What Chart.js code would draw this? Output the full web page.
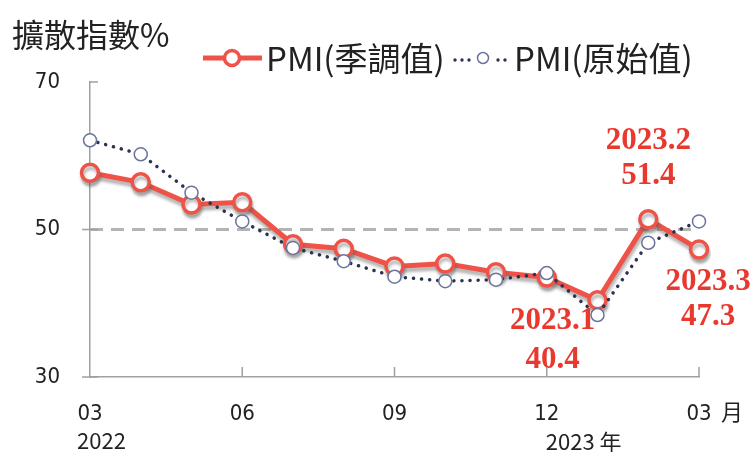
<!DOCTYPE html>
<html>
<head>
<meta charset="utf-8">
<script src="https://cdn.jsdelivr.net/npm/chart.js@4.4.0/dist/chart.umd.min.js"></script>
<style>
    html, body { margin: 0; padding: 0; background: #fff; }
    #wrap { position: relative; width: 756px; height: 452px; }
</style>
</head>
<body>
<div id="wrap"><canvas id="chart-pmi" width="756" height="452"></canvas></div>
<script>
// datos: 2022/03 .. 2023/03
var meses = ['03', '04', '05', '06', '07', '08', '09', '10', '11', '12', '01', '02', '03'];
var pmiSa = [57.7, 56.4, 53.4, 53.7, 48.0, 47.4, 45.0, 45.4, 44.2, 43.5, 40.4, 51.4, 47.3];
var pmiRaw = [62.1, 60.2, 55.0, 51.1, 47.5, 45.7, 43.6, 43.0, 43.2, 44.1, 38.4, 48.2, 51.1];
var yTicks = [30, 50, 70];
var nivelBase = 50;
var notaIdx = [10, 11, 12];
var notaFecha = ['2023.1', '2023.2', '2023.3'];
var serieNombres = ['PMI(季調值)', 'PMI(原始值)'];
var titulo = '擴散指數%';

var ROJO = '#ef5247';
var AZUL = '#2b3352';
var FONT = "'Liberation Sans Narrow', 'DejaVu Sans Condensed', 'Liberation Sans', sans-serif";
var FONT_CJK = "'Liberation Sans Narrow', 'Noto Sans CJK TC', sans-serif";

var PMIChart = (function () {
    var obj = {};

    // linea punteada en 50 y marcas de los ejes
    var pluginFondo = {
        id: 'fondo',
        beforeDatasetsDraw: function (chart) {
            var ctx = chart.ctx;
            var area = chart.chartArea;
            var y = chart.scales.y.getPixelForValue(nivelBase);
            ctx.save();
            ctx.strokeStyle = '#b4b4b4';
            ctx.lineWidth = 3;
            ctx.setLineDash([13, 8]);
            ctx.beginPath();
            ctx.moveTo(area.left, y);
            ctx.lineTo(area.right, y);
            ctx.stroke();
            ctx.restore();
        },
        afterDraw: function (chart) {
            var ctx = chart.ctx;
            var area = chart.chartArea;
            var sx = chart.scales.x;
            var sy = chart.scales.y;
            ctx.save();
            ctx.strokeStyle = '#a0a0a0';
            ctx.lineWidth = 1.5;
            yTicks.forEach(function (v) {
                var y = sy.getPixelForValue(v);
                ctx.beginPath();
                ctx.moveTo(area.left - (v === 70 ? 0 : 8), y);
                ctx.lineTo(area.left + 8, y);
                ctx.stroke();
            });
            for (var i = 3; i < meses.length; i += 3) {
                var x = sx.getPixelForValue(i);
                ctx.beginPath();
                ctx.moveTo(x, area.bottom);
                ctx.lineTo(x, area.bottom - 10);
                ctx.stroke();
            }

            // textos extra del eje x
            ctx.fillStyle = '#222';
            ctx.font = '22px ' + FONT_CJK;
            ctx.textBaseline = 'middle';
            ctx.textAlign = 'left';
            ctx.fillText('月', sx.getPixelForValue(12) + 22, 412);
            ctx.fillText('2022', sx.getPixelForValue(0) - 13, 441);
            ctx.fillText('2023 年', sx.getPixelForValue(9) - 1, 442);

            // notas de los ultimos meses
            ctx.fillStyle = '#e8392f';
            ctx.font = 'bold 31px "Liberation Serif", serif';
            ctx.textAlign = 'center';
            var offs = [[-45, 21, 60], [0, -78, -43], [9, 33, 68]];
            notaIdx.forEach(function (idx, k) {
                var px = sx.getPixelForValue(idx);
                var py = sy.getPixelForValue(pmiSa[idx]);
                ctx.fillText(notaFecha[k], px + offs[k][0], py + offs[k][1]);
                ctx.fillText(pmiSa[idx].toFixed(1), px + offs[k][0], py + offs[k][2]);
            });

            // titulo
            ctx.fillStyle = '#222';
            ctx.textAlign = 'left';
            ctx.font = '32px ' + FONT_CJK;
            ctx.fillText(titulo, 12, 35);

            // leyenda
            ctx.strokeStyle = ROJO;
            ctx.lineWidth = 5;
            ctx.beginPath();
            ctx.moveTo(203, 58);
            ctx.lineTo(262, 58);
            ctx.stroke();
            ctx.fillStyle = '#fff';
            ctx.lineWidth = 3.5;
            ctx.beginPath();
            ctx.arc(232, 58, 7.5, 0, Math.PI * 2);
            ctx.fill();
            ctx.stroke();

            ctx.fillStyle = AZUL;
            [455, 462, 469, 498, 505].forEach(function (dx) {
                ctx.beginPath();
                ctx.arc(dx, 60, 1.7, 0, Math.PI * 2);
                ctx.fill();
            });
            ctx.strokeStyle = '#6a739c';
            ctx.fillStyle = '#fff';
            ctx.lineWidth = 1.5;
            ctx.beginPath();
            ctx.arc(483, 58, 5.5, 0, Math.PI * 2);
            ctx.fill();
            ctx.stroke();

            ctx.fillStyle = '#222';
            ctx.font = '33px ' + FONT_CJK;
            ctx.fillText(serieNombres[0], 266, 58);
            ctx.fillText(serieNombres[1], 514, 58);
            ctx.restore();
        }
    };

    // sombra gris bajo la linea roja
    var pluginSombra = {
        id: 'sombra',
        beforeDatasetDraw: function (chart, args) {
            if (args.index !== 0) return;
            var ctx = chart.ctx;
            ctx.save();
            ctx.shadowColor = 'rgba(90, 90, 90, 0.45)';
            ctx.shadowOffsetY = 4;
            ctx.shadowOffsetX = 1;
            ctx.shadowBlur = 3;
        },
        afterDatasetDraw: function (chart, args) {
            if (args.index !== 0) return;
            chart.ctx.restore();
        }
    };

    obj.init = function () {
        var ctx = document.getElementById('chart-pmi').getContext('2d');
        new Chart(ctx, {
            type: 'line',
            data: {
                labels: meses,
                datasets: [{
                    label: serieNombres[0],
                    data: pmiSa,
                    order: 2,
                    borderColor: ROJO,
                    borderWidth: 5,
                    pointRadius: 8.5,
                    pointBorderWidth: 3.5,
                    pointBorderColor: ROJO,
                    pointBackgroundColor: '#fff',
                    tension: 0
                }, {
                    label: serieNombres[1],
                    data: pmiRaw,
                    order: 1,
                    borderColor: AZUL,
                    borderWidth: 3.5,
                    borderDash: [0.1, 8],
                    borderCapStyle: 'round',
                    pointRadius: 6.5,
                    pointBorderWidth: 1.5,
                    pointBorderColor: '#6a739c',
                    pointBackgroundColor: '#fff',
                    tension: 0
                }]
            },
            options: {
                responsive: false,
                animation: false,
                layout: { padding: { left: 0, top: 82, right: 57, bottom: 0 } },
                plugins: {
                    legend: { display: false },
                    tooltip: { enabled: false }
                },
                scales: {
                    x: {
                        offset: false,
                        grid: { drawOnChartArea: false, drawTicks: false },
                        border: { color: '#a0a0a0', width: 1.5 },
                        afterFit: function (scale) { scale.height = 75; },
                        ticks: {
                            autoSkip: false,
                            maxRotation: 0,
                            padding: 24,
                            color: '#222',
                            font: { family: FONT, size: 22 },
                            callback: function (val, index) {
                                return index % 3 === 0 ? meses[index] : '';
                            }
                        }
                    },
                    y: {
                        min: 30,
                        max: 70,
                        grid: { drawOnChartArea: false, drawTicks: false },
                        border: { color: '#a0a0a0', width: 1.5 },
                        afterFit: function (scale) { scale.width = 90; },
                        afterBuildTicks: function (scale) {
                            scale.ticks = yTicks.map(function (v) { return { value: v }; });
                        },
                        ticks: {
                            padding: 30,
                            color: '#222',
                            font: { family: FONT, size: 22 }
                        }
                    }
                }
            },
            plugins: [pluginFondo, pluginSombra]
        });
    };

    return obj;
}());

PMIChart.init();
</script>
</body>
</html>
